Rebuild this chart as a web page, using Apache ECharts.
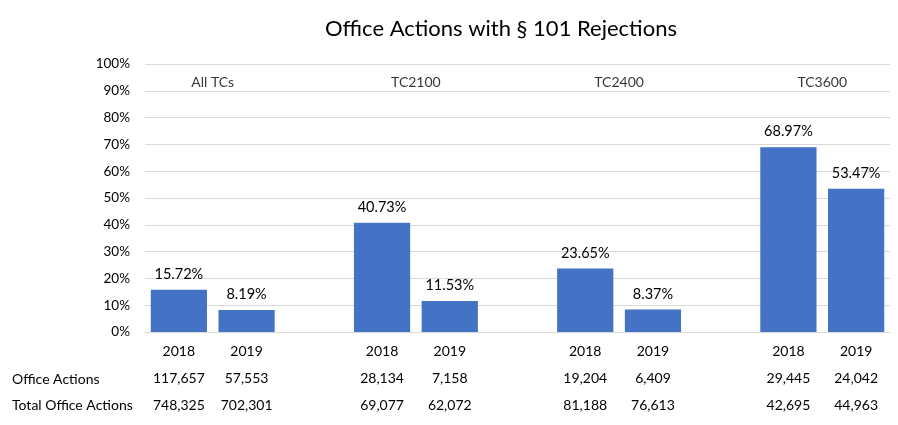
<!DOCTYPE html>
<html>
<head>
<meta charset="utf-8">
<script src="https://cdn.jsdelivr.net/npm/echarts@6/dist/echarts.min.js"></script>
<style>html,body{margin:0;padding:0;background:#fff}#c{width:898px;height:425px}</style>
</head>
<body>
<div id="c"></div>
<script>
// Data
var groups = ['All TCs', 'TC2100', 'TC2400', 'TC3600'];
var years = ['2018', '2019', '', '2018', '2019', '', '2018', '2019', '', '2018', '2019'];
var rejectionPct = [15.72, 8.19, null, 40.73, 11.53, null, 23.65, 8.37, null, 68.97, 53.47];
var officeActions = ['117,657', '57,553', '', '28,134', '7,158', '', '19,204', '6,409', '', '29,445', '24,042'];
var totalOfficeActions = ['748,325', '702,301', '', '69,077', '62,072', '', '81,188', '76,613', '', '42,695', '44,963'];
var groupPos = [0.5, 3.5, 6.5, 9.5];
var groupLabelY = 93;
var yTicks = [0, 10, 20, 30, 40, 50, 60, 70, 80, 90, 100];

var font = 'Lato, "Open Sans", sans-serif';
var chart = echarts.init(document.getElementById('c'));
chart.setOption({
  animation: false,
  textStyle: { fontFamily: font },
  title: {
    text: 'Office Actions with § 101 Rejections',
    left: 496, top: 13, textAlign: 'center',
    textStyle: { fontFamily: font, fontSize: 22, fontWeight: 'normal', color: '#000' }
  },
  grid: { left: 145, right: 8, top: 64, bottom: 93, containLabel: false },
  xAxis: [{
    type: 'category',
    data: years,
    axisLine: { show: true, lineStyle: { color: '#d9d9d9' } },
    axisTick: { show: false },
    axisLabel: {
      interval: 0,
      margin: 6,
      color: '#000',
      fontSize: 14,
      lineHeight: 27,
      fontFamily: font,
      formatter: function (v, i) {
        if (!v) return '';
        return v + '\n' + officeActions[i] + '\n' + totalOfficeActions[i];
      }
    }
  }, {
    type: 'value', min: -0.5, max: 10.5, show: false
  }],
  yAxis: {
    type: 'value', min: yTicks[0], max: yTicks[yTicks.length - 1], interval: 10,
    axisLine: { show: false }, axisTick: { show: false },
    axisLabel: { formatter: '{value}%', color: '#000', fontSize: 13.5, margin: 15, fontFamily: font },
    splitLine: { lineStyle: { color: '#d9d9d9', width: 1 } }
  },
  series: [{
    type: 'bar',
    data: rejectionPct,
    barWidth: '83%',
    itemStyle: { color: '#4472C4' },
    label: {
      show: true, position: 'top', distance: 8, color: '#000', fontSize: 14.5, fontFamily: font,
      formatter: function (p) { return p.value == null ? '' : p.value.toFixed(2) + '%'; }
    }
  }, {
    type: 'scatter',
    xAxisIndex: 1,
    symbolSize: 0,
    data: groupPos.map(function (x, i) { return { value: [x, groupLabelY], name: groups[i] }; }),
    label: {
      show: true, position: 'inside', color: '#000', fontSize: 14, fontFamily: font,
      formatter: function (p) { return p.name; }
    },
    silent: true
  }],
  graphic: [
    { type: 'text', left: 12, top: 372, style: { text: 'Office Actions', fontSize: 14, fontFamily: font, fill: '#000' } },
    { type: 'text', left: 12, top: 398, style: { text: 'Total Office Actions', fontSize: 14, fontFamily: font, fill: '#000' } }
  ]
});
</script>
</body>
</html>
